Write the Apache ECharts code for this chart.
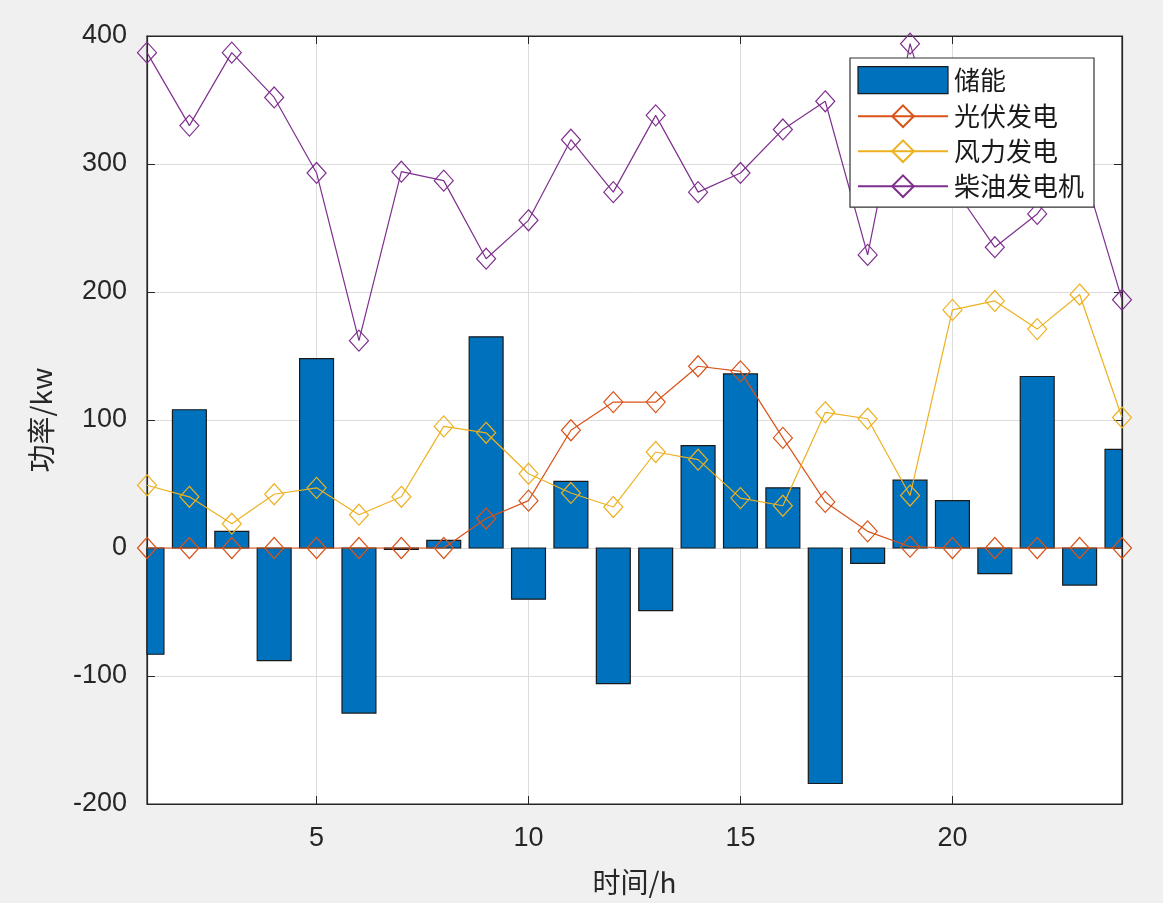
<!DOCTYPE html>
<html>
<head>
<meta charset="utf-8">
<script src="https://cdn.jsdelivr.net/npm/echarts@6/dist/echarts.min.js"></script>
<style>
html,body{margin:0;padding:0;background:#f0f0f0;}
#chart{width:1163px;height:903px;}
</style>
</head>
<body>
<div id="chart"></div>
<script>
const hours = [1,2,3,4,5,6,7,8,9,10,11,12,13,14,15,16,17,18,19,20,21,22,23,24];
const storage = [-83,108,13,-88,148,-129,-1,6,165,-40,52,-106,-49,80,136,47,-184,-12,53,37,-20,134,-29,77];
const pv = [0,0,0,0,0,0,0,0,23,37,92,114,114,142,138,86,36,13,1,0,0,0,0,0];
const wind = [49,40,19,42,47,26,40,95,90,58,43,32,75,69,39,33,106,101,41,186,193,171,198,102];
const diesel = [387,330,387,352,293,162,294,287,226,256,319,278,338,278,293,327,349,229,394,283,235,261,305,194];
const yTicks = {min:-200, max:400, interval:100};
const barRelWidth = 0.8;

const pair = arr => hours.map((h,i)=>[h,arr[i]]);
const font = '"Liberation Sans", Arial, "Noto Sans CJK SC", sans-serif';
const cjk = '"Noto Sans CJK SC", "Liberation Sans", sans-serif';
const axisColor = '#262626';

function lineSeries(name, data, color){
  return {
    name, type:'line', data: pair(data), xAxisIndex:0, yAxisIndex:0,
    symbol:'diamond', symbolSize:[19,21],
    lineStyle:{color, width:1.2},
    itemStyle:{color:'rgba(255,255,255,0)', borderColor:color, borderWidth:1.2},
    emphasis:{disabled:true}, z:3, clip:false, animation:false
  };
}

function renderBar(params, api){
  const x = api.value(0), y = api.value(1);
  const p0 = api.coord([x, 0]);
  const p1 = api.coord([x, y]);
  const w = api.size([barRelWidth, 0])[0];
  const cs = params.coordSys;
  const shape = echarts.graphic.clipRectByRect(
    {x: p0[0] - w/2, y: Math.min(p0[1], p1[1]), width: w, height: Math.abs(p1[1] - p0[1])},
    {x: cs.x, y: cs.y, width: cs.width, height: cs.height}
  );
  if (!shape) return null;
  return {type:'rect', shape, style: {fill:'#0072BD', stroke:'#1a1a1a', lineWidth:1.2}};
}

const chart = echarts.init(document.getElementById('chart'), null, {renderer:'canvas'});
chart.setOption({
  backgroundColor:'#f0f0f0',
  animation:false,
  grid:{left:147, right:41, top:36, bottom:99, show:true, backgroundColor:'#ffffff', borderColor:axisColor, borderWidth:1.2, containLabel:false},
  legend:{
    orient:'vertical', left:850, top:58,
    backgroundColor:'#ffffff', borderColor:'#333333', borderWidth:1.2,
    padding:[8,10,8,7], itemGap:9, itemWidth:90, itemHeight:27,
    textStyle:{fontFamily:cjk, fontSize:26, color:'#1a1a1a', padding:[0,0,0,1]},
    data:[{name:'储能', icon:'rect', itemStyle:{color:'#0072BD', borderColor:'#1a1a1a', borderWidth:1.2}},'光伏发电','风力发电','柴油发电机']
  },
  xAxis:[{
    type:'value', min:1, max:24, splitNumber:5,
    axisLine:{show:true, onZero:false, lineStyle:{color:axisColor, width:1.2}},
    axisTick:{show:true, inside:true, length:8, lineStyle:{color:axisColor}},
    axisLabel:{showMinLabel:false, showMaxLabel:false, fontFamily:font, fontSize:27, color:axisColor, margin:21},
    splitLine:{show:true, lineStyle:{color:'#dcdcdc', width:1}},
    name:'时间/h', nameLocation:'middle', nameGap:64,
    nameTextStyle:{fontFamily:cjk, fontSize:28, color:axisColor}
  },{
    type:'value', min:1, max:24, splitNumber:5, position:'top',
    axisLine:{show:true, onZero:false, lineStyle:{color:axisColor, width:1.2}},
    axisTick:{show:true, inside:true, length:8, lineStyle:{color:axisColor}},
    axisLabel:{show:false}, splitLine:{show:false}
  }],
  yAxis:[{
    type:'value', min:yTicks.min, max:yTicks.max, interval:yTicks.interval,
    axisLine:{show:true, onZero:false, lineStyle:{color:axisColor, width:1.2}},
    axisTick:{show:true, inside:true, length:8, lineStyle:{color:axisColor}},
    axisLabel:{fontFamily:font, fontSize:27, color:axisColor, margin:20},
    splitLine:{show:true, lineStyle:{color:'#dcdcdc', width:1}},
    name:'功率/kw', nameLocation:'middle', nameGap:92,
    nameTextStyle:{fontFamily:cjk, fontSize:28, color:axisColor}
  },{
    type:'value', min:yTicks.min, max:yTicks.max, interval:yTicks.interval, position:'right',
    axisLine:{show:true, onZero:false, lineStyle:{color:axisColor, width:1.2}},
    axisTick:{show:true, inside:true, length:8, lineStyle:{color:axisColor}},
    axisLabel:{show:false}, splitLine:{show:false}
  }],
  series:[
    {name:'储能', type:'custom', data:pair(storage), xAxisIndex:0, yAxisIndex:0,
     renderItem: renderBar, encode:{x:0, y:1},
     itemStyle:{color:'#0072BD', borderColor:'#1a1a1a', borderWidth:1.2}, emphasis:{disabled:true}, z:2},
    lineSeries('光伏发电', pv, '#D95319'),
    lineSeries('风力发电', wind, '#EDB120'),
    lineSeries('柴油发电机', diesel, '#7E2F8E')
  ]
});
</script>
</body>
</html>
